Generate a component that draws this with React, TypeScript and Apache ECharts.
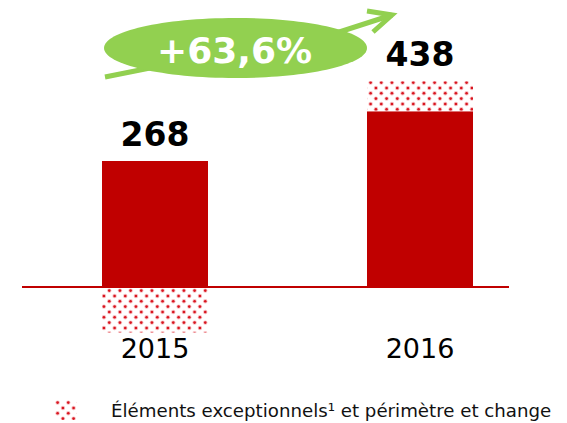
import React, { useEffect, useRef } from "react";
import * as echarts from "echarts";

const categories = ["2015", "2016"];
const coreValues = [268, 374];
const exceptionalValues = [-97, 64];
const totalLabels = [268, 438];
const growthLabel = "+63,6%";
const legendName = "Éléments exceptionnels¹ et périmètre et change";

const RED = "#C00000";
const GREEN = "#92D050";
const FONT = "DejaVu Sans, Verdana, sans-serif";

function makeDotPattern(): string {
  const c = document.createElement("canvas");
  c.width = 32;
  c.height = 32;
  const ctx = c.getContext("2d")!;
  ctx.fillStyle = "#ffffff";
  ctx.fillRect(0, 0, 32, 32);
  for (let r = 0; r < 6; r++) {
    const y = r * (32 / 6) + 2.6;
    const off = r % 2 === 0 ? 0 : 32 / 6;
    for (let k = 0; k < 3; k++) {
      const x = (k * 32) / 3 + off + 2.6;
      ctx.beginPath();
      ctx.arc(x, y, 2.2, 0, Math.PI * 2);
      ctx.fillStyle = "rgba(235,90,100,0.4)";
      ctx.fill();
      ctx.beginPath();
      ctx.arc(x, y, 1.3, 0, Math.PI * 2);
      ctx.fillStyle = "#D8151F";
      ctx.fill();
    }
  }
  return c.toDataURL();
}

export default function App() {
  const ref = useRef<HTMLDivElement>(null);
  useEffect(() => {
    if (!ref.current) return;
    const chart = echarts.init(ref.current, null, { renderer: "svg" });
    const pattern = {
      image: makeDotPattern(),
      repeat: "repeat",
      imageWidth: 32,
      imageHeight: 32,
    } as any;
    chart.setOption({
      animation: false,
      textStyle: { fontFamily: FONT },
      grid: {
        left: 22.5,
        right: 14.5,
        top: 52,
        bottom: 89,
        containLabel: false,
        outerBoundsMode: "none",
      },
      legend: {
        data: [legendName],
        left: 55,
        top: 400,
        padding: 0,
        icon: "rect",
        itemWidth: 22,
        itemHeight: 20,
        textStyle: {
          fontFamily: FONT,
          fontSize: 18.2,
          color: "#111",
          padding: [0, 0, 0, 29],
        },
      },
      xAxis: {
        type: "category",
        data: categories,
        splitLine: { show: false },
        axisTick: { show: false },
        axisLine: { show: false },
        axisLabel: {
          margin: 1,
          fontSize: 27,
          color: "#000",
          fontFamily: FONT,
        },
      },
      yAxis: { type: "value", min: -100, max: 500, show: false },
      series: [
        {
          type: "bar",
          name: "core",
          stack: "a",
          barWidth: 106,
          itemStyle: { color: RED },
          data: coreValues,
        },
        {
          type: "bar",
          name: legendName,
          stack: "a",
          barWidth: 106,
          itemStyle: { color: pattern },
          data: exceptionalValues,
        },
        {
          type: "scatter",
          name: "totals",
          symbolSize: 1,
          itemStyle: { color: "rgba(0,0,0,0)" },
          label: {
            show: true,
            position: "top",
            distance: 10,
            fontSize: 33,
            fontWeight: "bold",
            color: "#000",
            opacity: 1,
            fontFamily: FONT,
          },
          data: totalLabels,
        },
      ],
    });
    const y0 = chart.convertToPixel({ yAxisIndex: 0 }, 0) as number;
    chart.setOption({
      graphic: [
        {
          type: "line",
          shape: { x1: 22, y1: y0, x2: 509, y2: y0 },
          style: { stroke: RED, lineWidth: 2 },
          z: 5,
        },
        {
          type: "polyline",
          shape: { points: [[105, 77], [230, 52], [330, 35], [392, 15]] },
          style: { stroke: GREEN, lineWidth: 5, fill: null },
          z: 10,
        },
        {
          type: "polyline",
          shape: { points: [[367, 11], [392, 15], [373, 32]] },
          style: { stroke: GREEN, lineWidth: 5, fill: null, lineJoin: "miter" },
          z: 10,
        },
        {
          type: "ellipse",
          shape: { cx: 235.5, cy: 48, rx: 131.5, ry: 30 },
          style: { fill: GREEN },
          z: 11,
        },
        {
          type: "text",
          x: 234.5,
          y: 50,
          style: {
            text: growthLabel,
            fill: "#fff",
            font: `bold 36px ${FONT}`,
            align: "center",
            verticalAlign: "middle",
          },
          z: 12,
        },
      ],
    });
    return () => chart.dispose();
  }, []);
  return (
    <div
      ref={ref}
      style={{ position: "fixed", left: 0, top: 0, width: 567, height: 423, background: "#fff" }}
    />
  );
}
